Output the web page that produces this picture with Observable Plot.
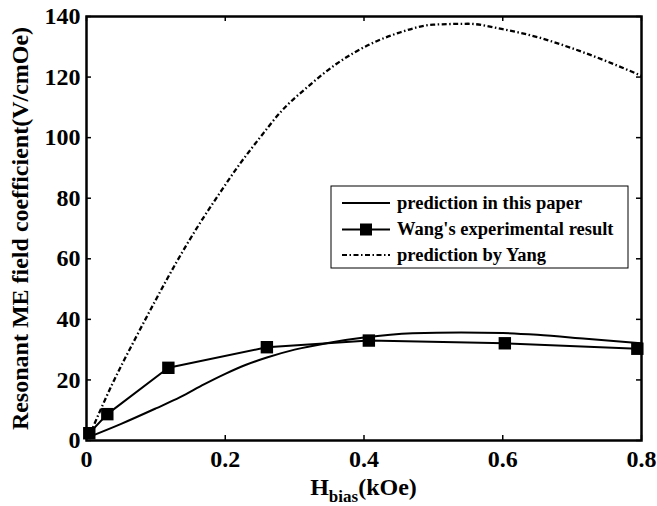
<!DOCTYPE html>
<html><head><meta charset="utf-8">
<script src="https://cdn.jsdelivr.net/npm/d3@7"></script>
<script src="https://cdn.jsdelivr.net/npm/@observablehq/plot@0.6"></script>
<style>
body{margin:0;background:#fff}
#chart{position:relative;width:657px;height:506px}
</style>
</head><body><div id="chart"></div>
<script>
// ---- data ----
const xTicks = [0, 0.2, 0.4, 0.6, 0.8];
const xTickLabels = ["0", "0.2", "0.4", "0.6", "0.8"];
const yTicks = [0, 20, 40, 60, 80, 100, 120, 140];
const yTickLabels = ["0", "20", "40", "60", "80", "100", "120", "140"];

const paperX = [0.004, 0.05, 0.1, 0.135, 0.17, 0.2, 0.23, 0.26, 0.3, 0.35, 0.4, 0.47, 0.54, 0.6, 0.65, 0.72, 0.8];
const paperY = [1.2, 5.5, 10.6, 14.3, 18.6, 22, 25, 27.4, 30, 32.3, 34, 35.4, 35.7, 35.5, 34.9, 33.6, 32.1];

const wangX = [0.004, 0.030, 0.118, 0.260, 0.407, 0.603, 0.794];
const wangY = [2.4, 8.7, 24, 30.8, 33, 32.1, 30.3];

const yangX = [0.005, 0.02, 0.04, 0.07, 0.1, 0.13, 0.16, 0.19, 0.22, 0.25, 0.28, 0.32, 0.36, 0.41, 0.45, 0.5, 0.55, 0.6, 0.65, 0.7, 0.75, 0.8];
const yangY = [2, 10, 20, 33.5, 46.5, 59, 70.5, 81, 91, 100, 108.5, 117, 124.3, 131, 134.6, 137.3, 137.6, 135.8, 133.2, 129.5, 125.2, 120.4];

const seriesNames = ["prediction in this paper", "Wang's experimental result", "prediction by Yang"];
const xTitleParts = ["H", "bias", "(kOe)"];
const yTitle = "Resonant ME field coefficient(V/cmOe)";

// ---- build ----
const toRows = (xs, ys) => xs.map((x, i) => ({x, y: ys[i]}));
const paper = toRows(paperX, paperY);
const wang = toRows(wangX, wangY);
const yang = toRows(yangX, yangY);

const FONT = "'Liberation Serif', 'Times New Roman', Times, serif";
const dashDot = "5,2.5,1.5,2.5";
const W = 657, H = 506, ML = 86, MR = 16, MT = 16, MB = 66;
const TICK = 5;
const plotW = W - ML - MR, plotH = H - MT - MB;
const tickStyle = {stroke: "black", strokeWidth: 1.5};

const plot = Plot.plot({
  width: W,
  height: H,
  marginLeft: ML,
  marginRight: MR,
  marginTop: MT,
  marginBottom: MB,
  style: {fontFamily: FONT, fontWeight: "bold", fontSize: "24px", color: "black", background: "white", overflow: "visible"},
  x: {domain: [0, 0.8]},
  y: {domain: [0, 140]},
  marks: [
    Plot.line(yang, {x: "x", y: "y", curve: "monotone-x", stroke: "black", strokeWidth: 2.3, strokeDasharray: dashDot, strokeLinecap: "butt"}),
    Plot.line(paper, {x: "x", y: "y", curve: "monotone-x", stroke: "black", strokeWidth: 2}),
    Plot.line(wang, {x: "x", y: "y", stroke: "black", strokeWidth: 2}),
    Plot.dot(wang, {x: "x", y: "y", symbol: "square", r: 7, fill: "black", stroke: "none"}),
    Plot.axisX({ticks: xTicks, tickFormat: (d, i) => xTickLabels[i], tickSize: 0, tickPadding: 9, label: null}),
    Plot.axisY({ticks: yTicks, tickFormat: (d, i) => yTickLabels[i], tickSize: 0, tickPadding: 6, label: null}),
    Plot.tickX(xTicks, {x: d => d, insetTop: plotH - TICK, ...tickStyle}),
    Plot.tickX(xTicks, {x: d => d, insetBottom: plotH - TICK, ...tickStyle}),
    Plot.tickY(yTicks, {y: d => d, insetRight: plotW - TICK, ...tickStyle}),
    Plot.tickY(yTicks, {y: d => d, insetLeft: plotW - TICK, ...tickStyle}),
    Plot.frame({stroke: "black", strokeWidth: 2.5}),
    Plot.text([yTitle], {frameAnchor: "left", textAnchor: "middle", dx: -66, rotate: -90, text: d => d, fontSize: 24, fontWeight: "bold"})
  ]
});

document.getElementById("chart").appendChild(plot);

// ---- x-axis title with subscript ----
const svg = d3.select(plot);
const xs = plot.scale("x");
const cx = (xs.apply(0) + xs.apply(0.8)) / 2;
const xt = svg.append("text")
  .attr("x", cx).attr("y", 495)
  .attr("text-anchor", "middle")
  .attr("font-family", FONT).attr("font-weight", "bold").attr("font-size", 24).attr("fill", "black");
xt.append("tspan").text(xTitleParts[0]);
xt.append("tspan").attr("font-size", 17).attr("dy", 7).text(xTitleParts[1]);
xt.append("tspan").attr("dy", -7).text(xTitleParts[2]);

// ---- legend ----
const lg = svg.append("g").attr("font-family", FONT).attr("font-weight", "bold").attr("font-size", 18.5).attr("text-anchor", "start");
const box = {x: 331, y: 186, w: 297, h: 82};
lg.append("rect").attr("x", box.x).attr("y", box.y).attr("width", box.w).attr("height", box.h)
  .attr("fill", "white").attr("stroke", "black").attr("stroke-width", 1);
const rowsY = [203, 229.5, 255];
const styles = [
  {dash: null, marker: false},
  {dash: null, marker: true},
  {dash: dashDot, marker: false}
];
seriesNames.forEach((name, i) => {
  const y = rowsY[i];
  const ln = lg.append("line").attr("x1", 342).attr("x2", 390).attr("y1", y).attr("y2", y)
    .attr("stroke", "black").attr("stroke-width", 2);
  if (styles[i].dash) ln.attr("stroke-dasharray", styles[i].dash);
  if (styles[i].marker) lg.append("rect").attr("x", 366 - 6).attr("y", y - 6).attr("width", 12).attr("height", 12).attr("fill", "black");
  lg.append("text").attr("x", 397).attr("y", y + 5.5).attr("text-anchor", "start").attr("fill", "black").text(name);
});
</script>
</body></html>
